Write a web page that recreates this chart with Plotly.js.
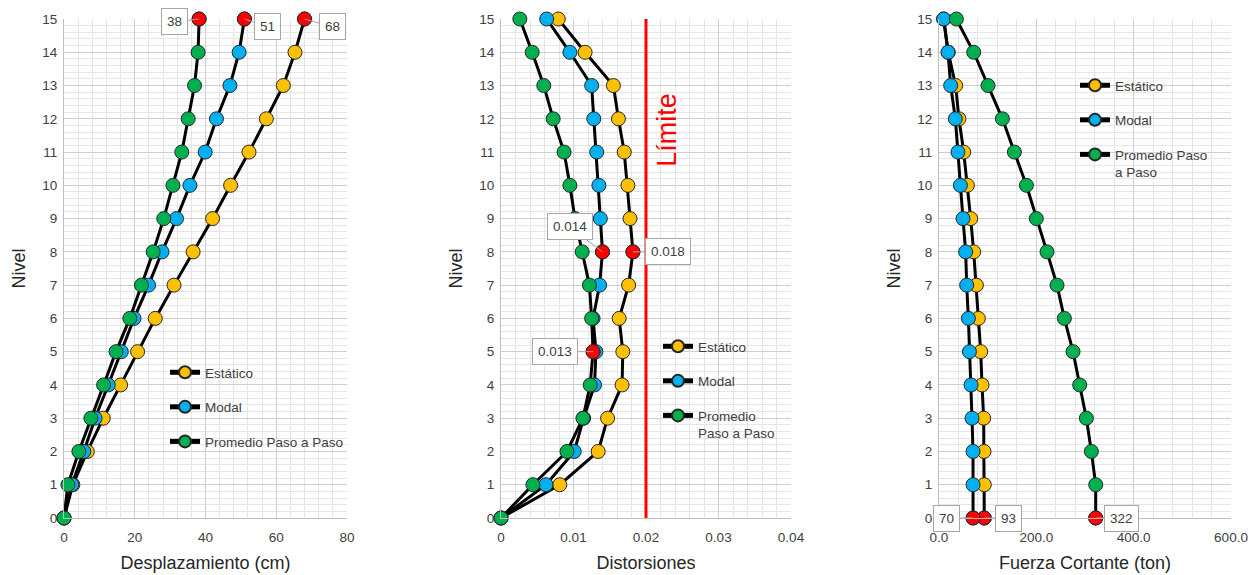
<!DOCTYPE html>
<html>
<head>
<meta charset="utf-8">
<script src="https://cdn.plot.ly/plotly-3.0.1.min.js"></script>
<style>html,body{margin:0;padding:0;background:#fff}#chart{width:1258px;height:575px}</style>
</head>
<body>
<div id="chart"></div>
<script>
// ---- Data ----
const niveles = [0,1,2,3,4,5,6,7,8,9,10,11,12,13,14,15];

// Desplazamiento (cm)
const despEstatico = [0, 2.5, 6.6, 11.1, 16.0, 20.8, 25.8, 31.1, 36.5, 42.0, 47.1, 52.3, 57.2, 62.0, 65.3, 68.0];
const despModal    = [0, 2.2, 5.6, 8.8, 12.5, 16.2, 19.8, 23.9, 27.7, 31.8, 35.6, 39.9, 43.1, 46.9, 49.5, 51.0];
const despPaso     = [0, 1.1, 4.2, 7.6, 11.2, 14.7, 18.6, 21.9, 25.2, 28.2, 30.8, 33.3, 35.1, 36.9, 37.9, 38.2];

// Distorsiones
const distEstatico = [0, 0.0081, 0.0134, 0.0147, 0.0167, 0.0168, 0.0163, 0.0176, 0.0182, 0.0178, 0.0175, 0.0170, 0.0162, 0.0155, 0.0116, 0.0079];
const distModal    = [0, 0.0062, 0.0101, 0.0114, 0.0129, 0.0131, 0.0127, 0.0136, 0.0140, 0.0137, 0.0135, 0.0132, 0.0128, 0.0125, 0.0095, 0.0063];
const distPaso     = [0, 0.0044, 0.0091, 0.0113, 0.0123, 0.0127, 0.0125, 0.0122, 0.0112, 0.0102, 0.0095, 0.0087, 0.0072, 0.0059, 0.0043, 0.0026];
const distLimite   = 0.02;

// Fuerza cortante (ton)
const cortEstatico = [93, 93, 92.5, 91.8, 88.4, 85.7, 80.9, 76.8, 71.3, 65.1, 58.3, 50.8, 41.0, 34.2, 19.0, 9.6];
const cortModal    = [70, 70, 69.9, 67.8, 65.8, 62.5, 60.4, 56.9, 54.8, 49.3, 44.0, 39.0, 33.6, 24.0, 18.5, 9.6];
const cortPaso     = [322, 322, 313.1, 302.8, 289.1, 275.4, 257.6, 242.5, 221.9, 200.0, 179.6, 154.9, 130.3, 100.7, 71.3, 35.7];

const nombres1 = ["Estático", "Modal", "Promedio Paso a Paso"];
const nombres2 = ["Estático", "Modal", "Promedio<br>Paso a Paso"];
const nombres3 = ["Estático", "Modal", "Promedio Paso<br>a Paso"];

const xTitles = ["Desplazamiento (cm)", "Distorsiones", "Fuerza Cortante (ton)"];
const yTitle = "Nivel";
const limiteTexto = "Límite";

// ---- Styles ----
const colores = ["#FFC000", "#00B0F0", "#00B050"];
const rojo = "#FF0000";
const FONT = "Liberation Sans, Arial, sans-serif";
const W = 1258, H = 575;

const panels = [
  {series:[despEstatico, despModal, despPaso], names:nombres1, xa:'x', ya:'y', legend:'legend', fmt:v=>String(Math.round(v)),
   offsets:[[28,8],[23,8],[-25,3]]},
  {series:[distEstatico, distModal, distPaso], names:nombres2, xa:'x2', ya:'y2', legend:'legend2', fmt:v=>v.toFixed(3),
   offsets:[[35,0],[-33,-25],[-38,0]]},
  {series:[cortEstatico, cortModal, cortPaso], names:nombres3, xa:'x3', ya:'y3', legend:'legend3', fmt:v=>String(Math.round(v)),
   offsets:[[24,0],[-27,0],[26,0]]}
];

const traces = [];
const annotations = [];

panels.forEach((p, pi) => {
  if (pi === 1) {
    traces.push({x:[distLimite, distLimite], y:[niveles[0], niveles[niveles.length-1]], xaxis:'x2', yaxis:'y2',
      mode:'lines', line:{color:rojo, width:3}, showlegend:false, hoverinfo:'skip', cliponaxis:false});
  }
  p.series.forEach((s, si) => {
    traces.push({
      x: s, y: niveles, xaxis: p.xa, yaxis: p.ya, name: p.names[si],
      mode: 'lines+markers', cliponaxis: false,
      line: {color: '#000000', width: 3},
      marker: {size: 14, color: colores[si], line: {color: '#262626', width: 1}},
      legend: p.legend, legendgroup: p.legend + si
    });
  });
  p.series.forEach((s, si) => {
    let mi = 0;
    s.forEach((v, i) => { if (v > s[mi]) mi = i; });
    traces.push({
      x: [s[mi]], y: [niveles[mi]], xaxis: p.xa, yaxis: p.ya, mode: 'markers', cliponaxis: false,
      marker: {size: 14, color: rojo, line: {color: '#262626', width: 1}}, showlegend: false, hoverinfo: 'skip'
    });
    annotations.push({
      x: s[mi], y: niveles[mi], xref: p.xa, yref: p.ya, text: p.fmt(s[mi]),
      showarrow: true, arrowhead: 0, arrowwidth: 1, arrowcolor: '#a6a6a6', standoff: 0,
      ax: p.offsets[si][0], ay: p.offsets[si][1],
      bgcolor: '#ffffff', bordercolor: '#a6a6a6', borderwidth: 1, borderpad: 5,
      font: {family: FONT, size: 13.5, color: '#404040'}
    });
  });
});

annotations.push({
  x: 0.0229, y: 11.67, xref: 'x2', yref: 'y2', text: limiteTexto, showarrow: false, textangle: -90,
  font: {family: FONT, size: 27, color: rojo}
});

const ydom = [1 - 518/H, 1 - 19/H];
function xaxis(dom, range, dtick, minor, title, fmt) {
  return {
    domain: [dom[0]/W, dom[1]/W], range: range, dtick: dtick, tick0: 0, tickformat: fmt,
    showgrid: true, gridcolor: '#cfcfcf', gridwidth: 1,
    minor: {dtick: minor, showgrid: true, gridcolor: '#e6e6e6', gridwidth: 1},
    showline: true, linecolor: '#bfbfbf', linewidth: 1, mirror: false, zeroline: false, ticks: '',
    ticklabelstandoff: 7,
    tickfont: {family: FONT, size: 13.5, color: '#404040'},
    title: {text: title, font: {family: FONT, size: 18, color: '#262626'}, standoff: 12},
    fixedrange: true
  };
}
function yaxis(anchor) {
  return {
    domain: ydom, range: [0, 15], dtick: 1, tick0: 0, anchor: anchor,
    showgrid: true, gridcolor: '#cfcfcf', gridwidth: 1,
    minor: {dtick: 0.2, showgrid: true, gridcolor: '#e6e6e6', gridwidth: 1},
    showline: true, linecolor: '#bfbfbf', linewidth: 1, zeroline: false, ticks: '',
    ticklabelstandoff: 3,
    tickfont: {family: FONT, size: 13.5, color: '#404040'},
    title: {text: yTitle, font: {family: FONT, size: 18, color: '#262626'}, standoff: 11},
    fixedrange: true
  };
}
function legend(x, y) {
  return {x: x, y: y, xanchor: 'left', yanchor: 'top', bgcolor: 'rgba(0,0,0,0)', borderwidth: 0,
    font: {family: FONT, size: 13.5, color: '#404040'}, itemsizing: 'constant', tracegroupgap: 14,
    traceorder: 'grouped', valign: 'top'};
}

const layout = {
  width: W, height: H, margin: {l: 0, r: 0, t: 0, b: 0},
  paper_bgcolor: '#ffffff', plot_bgcolor: '#ffffff',
  font: {family: FONT},
  xaxis: Object.assign(xaxis([64, 347], [0, 80], 20, 4, xTitles[0], 'd'), {anchor: 'y'}),
  yaxis: yaxis('x'),
  xaxis2: Object.assign(xaxis([501, 791], [0, 0.04], 0.01, 0.002, xTitles[1], ''), {anchor: 'y2'}),
  yaxis2: yaxis('x2'),
  xaxis3: Object.assign(xaxis([939, 1231], [0, 600], 200, 40, xTitles[2], '.1f'), {anchor: 'y3'}),
  yaxis3: yaxis('x3'),
  legend: legend(165/W, 1 - 357/H),
  legend2: legend(658/W, 1 - 331/H),
  legend3: legend(1075/W, 1 - 70/H),
  annotations: annotations,
  showlegend: true,
  hovermode: false
};

Plotly.newPlot('chart', traces, layout, {displayModeBar: false, staticPlot: true});
</script>
</body>
</html>
